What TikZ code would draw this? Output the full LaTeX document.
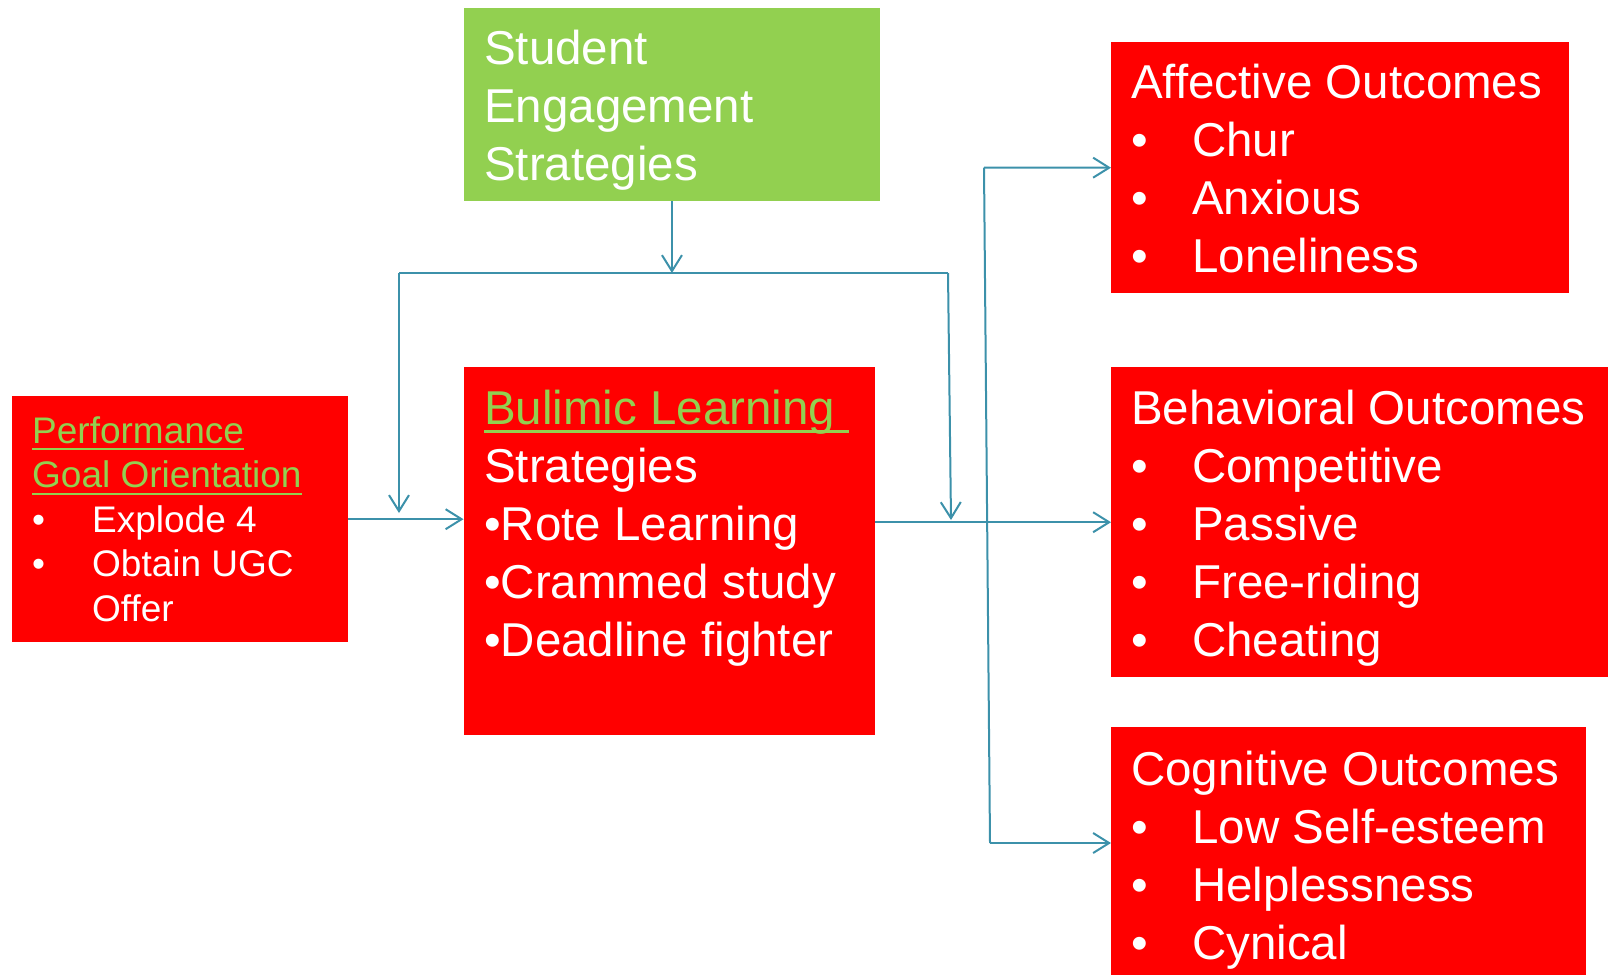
\documentclass[tikz,border=0pt]{standalone}
\usepackage{fontspec}
\setmainfont{Liberation Sans}
\usetikzlibrary{arrows.meta}
\definecolor{boxred}{RGB}{255,0,0}
\definecolor{boxgreen}{RGB}{146,208,80}
\definecolor{linkblue}{RGB}{60,145,170}
\newcommand{\grul}[1]{{\color{boxgreen}\setbox0\hbox{#1}\rlap{\rule[-0.19em]{\wd0}{0.06em}}\box0}}
\newcommand{\bul}[2][61pt]{\makebox[#1][l]{\textbullet}#2}
\tikzset{rb/.append style={fill=boxred, anchor=north west, inner sep=0pt}}
\tikzset{gb/.append style={fill=boxgreen, anchor=north west, inner sep=0pt}}
\tikzset{tx/.append style={anchor=base west, align=left, inner sep=0pt, text=white, font=\fontsize{47.5}{58}\selectfont}}
\tikzset{lk/.append style={draw=linkblue, line width=2pt}}
\tikzset{ln/.append style={lk, -{Straight Barb[length=16pt,width=20pt]}}}

\begin{document}
\begin{tikzpicture}[x=1pt,y=-1pt]
                \useasboundingbox (0,0) rectangle (1608,975);
                % boxes
                \node[gb, minimum width=416.5pt, minimum height=193pt] (seg) at (463.5,8) {};
                \node[rb, minimum width=336pt, minimum height=246pt] (perf) at (12,396) {};
                \node[rb, minimum width=411.5pt, minimum height=368pt] (bul) at (463.5,367) {};
                \node[rb, minimum width=458pt, minimum height=251pt] (aff) at (1111,42) {};
                \node[rb, minimum width=497pt, minimum height=310pt] (beh) at (1111,367) {};
                \node[rb, minimum width=475pt, minimum height=248pt] (cog) at (1111,727) {};
                % texts (base = last line)
                \node[tx] (segtx) at (484,180) {Student\\Engagement\\Strategies};
                \node[tx, font=\fontsize{37}{44.6}\selectfont] (perftx) at (32,621.5)
                    {\grul{Performance}\\\grul{Goal Orientation}\\\bul[60pt]{Explode 4}\\\bul[60pt]{Obtain UGC}\\\hspace*{60pt}Offer};
                \node[tx] (bultx) at (484,656)
                    {\grul{Bulimic Learning\ }\\Strategies\\\textbullet Rote Learning\\\textbullet Crammed study\\\textbullet Deadline fighter};
                \node[tx] (afftx) at (1131,272)
                    {Affective Outcomes\\\bul{Chur}\\\bul{Anxious}\\\bul{Loneliness}};
                \node[tx] (behtx) at (1131,656)
                    {Behavioral Outcomes\\\bul{Competitive}\\\bul{Passive}\\\bul{Free-riding}\\\bul{Cheating}};
                \node[tx] (cogtx) at (1131,959)
                    {Cognitive Outcomes\\\bul{Low Self-esteem}\\\bul{Helplessness}\\\bul{Cynical}};
                % connectors
                \coordinate (barL) at (399,273);
                \coordinate (barR) at (948,273);
                \coordinate (tipL) at (399,513);
                \coordinate (tipR) at (951,520);
                \coordinate (brT) at (984,167.5);
                \coordinate (brB) at (990,843);
                \draw[lk] (barL) -- (barR);
                \draw[ln] (seg.south) -- (seg.south |- barL);
                \draw[ln] (barL) -- (tipL);
                \draw[ln] (barR) -- (tipR);
                \draw[ln] (perf.east) -- (bul.west |- perf.east);
                \draw[ln] (bul.east |- beh.west) -- (beh.west);
                \draw[lk] (brT) -- (brB);
                \draw[ln] (brT) -- (aff.west);
                \draw[ln] (brB) -- (cog.west |- brB);
\end{tikzpicture}
\end{document}
